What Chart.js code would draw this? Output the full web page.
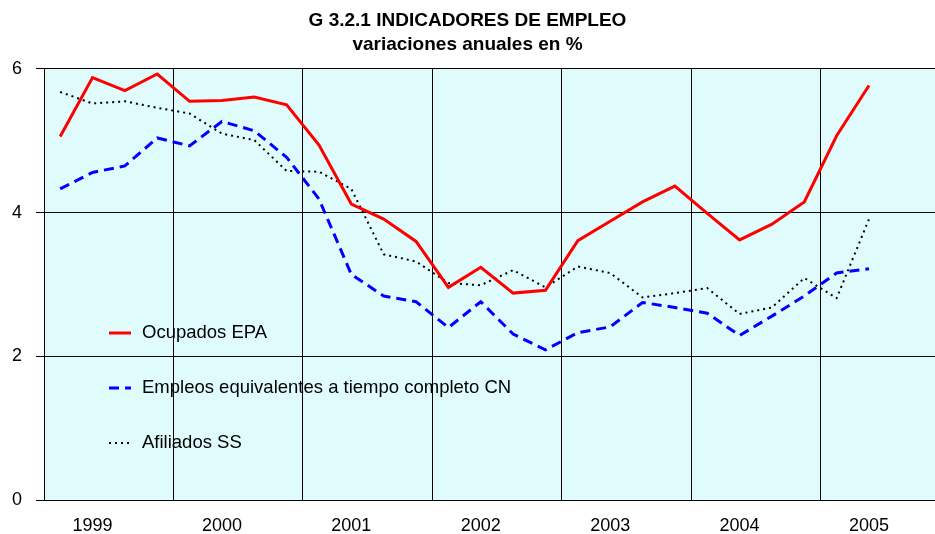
<!DOCTYPE html>
<html>
<head>
<meta charset="utf-8">
<script src="https://cdn.jsdelivr.net/npm/chart.js@4/dist/chart.umd.min.js"></script>
<style>
  html, body { margin: 0; padding: 0; background: #fff; overflow: hidden; }
</style>
</head>
<body>
<canvas id="chart" width="935" height="534"></canvas>
<script>
// quarterly data, 1999 Q1 .. 2005 Q2
const years = ['1999', '2000', '2001', '2002', '2003', '2004', '2005'];
const quarters = [
  '1999-I', '1999-II', '1999-III', '1999-IV',
  '2000-I', '2000-II', '2000-III', '2000-IV',
  '2001-I', '2001-II', '2001-III', '2001-IV',
  '2002-I', '2002-II', '2002-III', '2002-IV',
  '2003-I', '2003-II', '2003-III', '2003-IV',
  '2004-I', '2004-II', '2004-III', '2004-IV',
  '2005-I', '2005-II',
];
const ocupadosEPA = [
  5.06, 5.88, 5.70, 5.93, 5.55, 5.56, 5.61, 5.50, 4.94, 4.12, 3.91, 3.60, 2.96,
  3.24, 2.88, 2.92, 3.61, 3.88, 4.15, 4.37, 3.99, 3.62, 3.84, 4.15, 5.07, 5.77,
];
const empleosCN = [
  4.33, 4.56, 4.65, 5.04, 4.93, 5.27, 5.14, 4.77, 4.19, 3.14, 2.84, 2.76, 2.40,
  2.76, 2.31, 2.09, 2.33, 2.41, 2.75, 2.68, 2.60, 2.29, 2.56, 2.84, 3.16, 3.22,
];
const afiliadosSS = [
  5.68, 5.52, 5.55, 5.46, 5.38, 5.10, 5.01, 4.58, 4.57, 4.33, 3.42, 3.32, 3.02,
  2.99, 3.20, 2.96, 3.25, 3.16, 2.82, 2.88, 2.95, 2.59, 2.68, 3.09, 2.81, 3.91,
];
const yTicks = [0, 2, 4, 6];

const FONT = 'Arial, "Liberation Sans", sans-serif';

const toPoints = (arr) => arr.map((y, i) => ({ x: i, y }));

// legend drawn inside the plot area, lower left
const InnerLegend = {
  id: 'innerLegend',
  afterDatasetsDraw(chart, _args, opts) {
    const { ctx } = chart;
    ctx.save();
    ctx.font = '18.5px ' + FONT;
    ctx.textBaseline = 'middle';
    chart.data.datasets.forEach((ds, i) => {
      const y = opts.top + i * opts.gap;
      ctx.beginPath();
      ctx.strokeStyle = ds.borderColor;
      ctx.lineWidth = ds.borderWidth;
      ctx.setLineDash(ds.borderDash || []);
      ctx.moveTo(opts.x, y);
      ctx.lineTo(opts.x + 22, y);
      ctx.stroke();
      ctx.setLineDash([]);
      ctx.fillStyle = '#000';
      ctx.fillText(ds.label, opts.x + 33, y);
    });
    ctx.restore();
  },
};

const PlotBackground = {
  id: 'plotBackground',
  beforeDraw(chart) {
    const { ctx, chartArea: a } = chart;
    ctx.save();
    ctx.fillStyle = '#E0FBFB';
    ctx.fillRect(a.left, a.top, a.right - a.left, a.bottom - a.top);
    ctx.restore();
  },
};

const isBoundary = (v) => Math.abs(((v - 3.5) % 4 + 4) % 4) < 1e-6;

new Chart(document.getElementById('chart'), {
  type: 'line',
  data: {
    labels: quarters,
    datasets: [
      {
        label: 'Ocupados EPA',
        data: toPoints(ocupadosEPA),
        borderColor: '#FF0000',
        borderWidth: 3,
      },
      {
        label: 'Empleos equivalentes a tiempo completo CN',
        data: toPoints(empleosCN),
        borderColor: '#0000FF',
        borderWidth: 3,
        borderDash: [10, 6],
      },
      {
        label: 'Afiliados SS',
        data: toPoints(afiliadosSS),
        borderColor: '#000000',
        borderWidth: 2,
        borderDash: [2, 4],
      },
    ],
  },
  plugins: [PlotBackground, InnerLegend],
  options: {
    responsive: false,
    devicePixelRatio: 1,
    animation: false,
    layout: { padding: 0 },
    elements: {
      point: { radius: 0 },
      line: { tension: 0, fill: false },
    },
    scales: {
      x: {
        type: 'linear',
        min: -0.5,
        max: 27.04,
        afterBuildTicks(scale) {
          const t = [];
          years.forEach((_, k) => {
            t.push({ value: 1 + 4 * k });
            if (k < years.length - 1) t.push({ value: 3.5 + 4 * k });
          });
          scale.ticks = t;
        },
        afterFit(scale) { scale.height = 34; },
        grid: {
          color: (c) => (c.tick && isBoundary(c.tick.value) ? '#000' : 'rgba(0,0,0,0)'),
          lineWidth: 1,
          drawTicks: false,
        },
        border: { color: '#000', width: 1 },
        ticks: {
          autoSkip: false,
          maxRotation: 0,
          padding: 15,
          color: '#000',
          font: { family: FONT, size: 18 },
          callback: (v) => (Number.isInteger(v) ? years[(v - 1) / 4] : ''),
        },
      },
      y: {
        min: 0,
        max: 6,
        afterBuildTicks(scale) {
          scale.ticks = yTicks.map((value) => ({ value }));
        },
        afterFit(scale) { scale.width = 44; },
        grid: { color: '#000', lineWidth: 1, tickLength: 8 },
        border: { color: '#000', width: 1 },
        ticks: {
          padding: 14,
          color: '#000',
          font: { family: FONT, size: 18 },
        },
      },
    },
    plugins: {
      legend: { display: false },
      tooltip: { enabled: false },
      title: {
        display: true,
        text: ['G 3.2.1 INDICADORES DE EMPLEO', 'variaciones anuales en %'],
        color: '#000',
        font: { family: FONT, size: 19, weight: 'bold', lineHeight: 1.263 },
        padding: { top: 9, bottom: 12 },
      },
      innerLegend: { x: 109, top: 333, gap: 55 },
    },
  },
});
</script>
</body>
</html>
